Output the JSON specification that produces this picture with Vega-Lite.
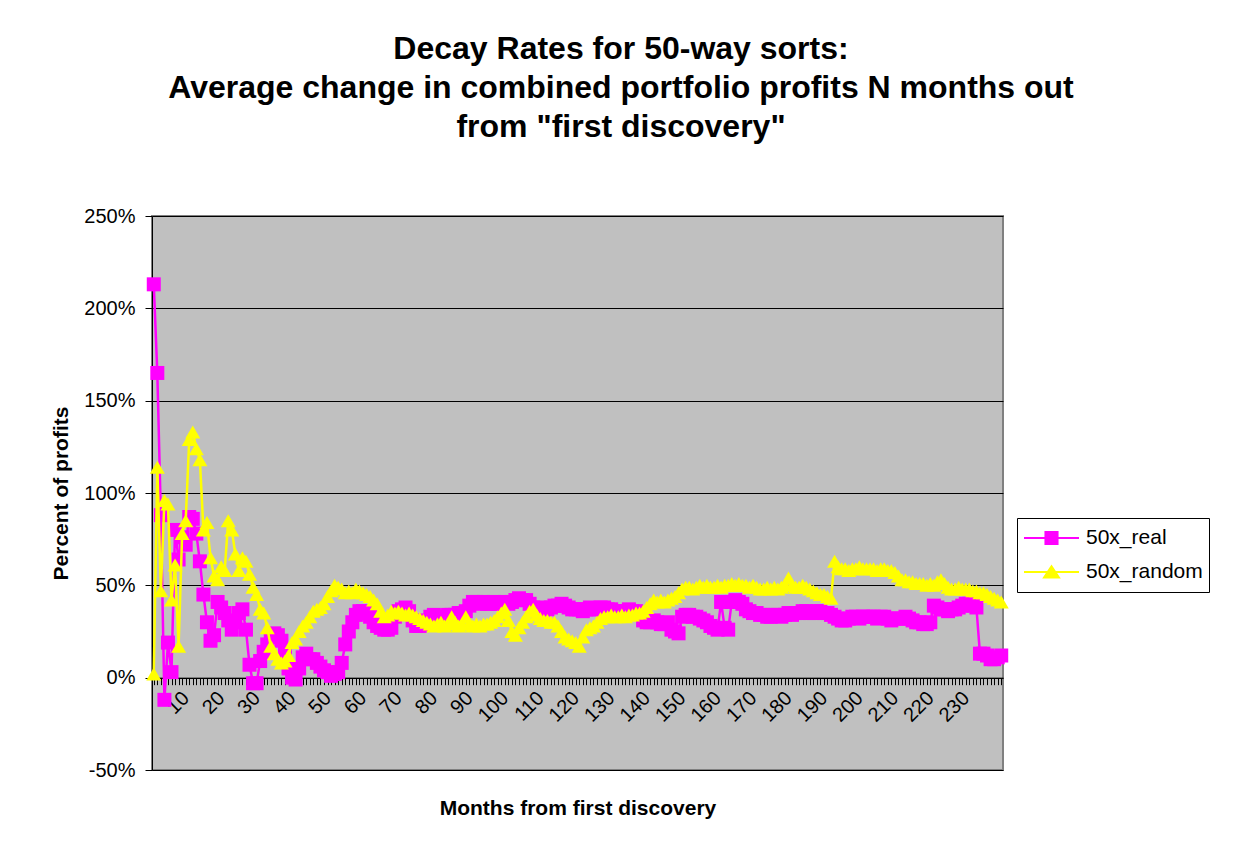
{
  "$schema": "https://vega.github.io/schema/vega-lite/v6.json",
  "width": 851,
  "height": 554,
  "autosize": {"type": "none"},
  "padding": {"left": 152, "top": 216, "right": 230, "bottom": 90},
  "background": "white",
  "config": {
    "font": "Liberation Sans",
    "view": {"fill": "#C0C0C0", "stroke": "#808080", "strokeWidth": 2}
  },
  "title": {
    "text": ["Decay Rates for 50-way sorts:", "Average change in combined portfolio profits N months out", "from \"first discovery\""],
    "fontSize": 32, "fontWeight": "bold", "font": "Liberation Sans", "color": "black",
    "lineHeight": 39, "anchor": "middle", "frame": "group", "dx": 43.5, "offset": 62
  },
  "data": {"values": [
{"m":1,"real":213,"random":2},{"m":2,"real":165,"random":114},{"m":3,"real":88,"random":47},{"m":4,"real":-12,"random":96},{"m":5,"real":19,"random":94},
{"m":6,"real":3,"random":42},{"m":7,"real":80,"random":61},{"m":8,"real":64,"random":17},{"m":9,"real":76,"random":78},{"m":10,"real":72,"random":85},
{"m":11,"real":87,"random":129},{"m":12,"real":86,"random":133},{"m":13,"real":78,"random":124},{"m":14,"real":63,"random":118},{"m":15,"real":45,"random":80},
{"m":16,"real":30,"random":84},{"m":17,"real":20,"random":65},{"m":18,"real":23,"random":55},{"m":19,"real":41,"random":53},{"m":20,"real":38,"random":60},
{"m":21,"real":35,"random":58},{"m":22,"real":31,"random":85},{"m":23,"real":26,"random":80},{"m":24,"real":30,"random":67},{"m":25,"real":35,"random":58},
{"m":26,"real":37,"random":65},{"m":27,"real":26,"random":63},{"m":28,"real":7,"random":56},{"m":29,"real":-3,"random":49},{"m":30,"real":-3,"random":45},
{"m":31,"real":9,"random":37},{"m":32,"real":14,"random":35},{"m":33,"real":18,"random":27},{"m":34,"real":22,"random":17},{"m":35,"real":24,"random":13},
{"m":36,"real":23,"random":10},{"m":37,"real":20,"random":8},{"m":38,"real":13,"random":9},{"m":39,"real":5,"random":12},{"m":40,"real":0,"random":19},
{"m":41,"real":-1,"random":21},{"m":42,"real":5,"random":25},{"m":43,"real":11,"random":28},{"m":44,"real":13,"random":30},{"m":45,"real":10,"random":33},
{"m":46,"real":10,"random":36},{"m":47,"real":8,"random":37},{"m":48,"real":6,"random":38},{"m":49,"real":4,"random":40},{"m":50,"real":3,"random":44},
{"m":51,"real":1,"random":47},{"m":52,"real":2,"random":50},{"m":53,"real":3,"random":49},{"m":54,"real":8,"random":48},{"m":55,"real":18,"random":46},
{"m":56,"real":25,"random":47},{"m":57,"real":30,"random":46},{"m":58,"real":34,"random":48},{"m":59,"real":36,"random":47},{"m":60,"real":36,"random":46},
{"m":61,"real":35,"random":45},{"m":62,"real":33,"random":44},{"m":63,"real":30,"random":42},{"m":64,"real":28,"random":40},{"m":65,"real":27,"random":36},
{"m":66,"real":26,"random":33},{"m":67,"real":26,"random":34},{"m":68,"real":27,"random":36},{"m":69,"real":33,"random":35},{"m":70,"real":36,"random":36},
{"m":71,"real":37,"random":35},{"m":72,"real":38,"random":34},{"m":73,"real":36,"random":35},{"m":74,"real":31,"random":34},{"m":75,"real":28,"random":33},
{"m":76,"real":28,"random":32},{"m":77,"real":29,"random":31},{"m":78,"real":31,"random":30},{"m":79,"real":33,"random":29},{"m":80,"real":34,"random":28},
{"m":81,"real":33,"random":29},{"m":82,"real":32,"random":30},{"m":83,"real":33,"random":28},{"m":84,"real":34,"random":29},{"m":85,"real":34,"random":33},
{"m":86,"real":34,"random":30},{"m":87,"real":35,"random":28},{"m":88,"real":35,"random":29},{"m":89,"real":36,"random":33},{"m":90,"real":39,"random":29},
{"m":91,"real":41,"random":28},{"m":92,"real":41,"random":29},{"m":93,"real":40,"random":28},{"m":94,"real":41,"random":29},{"m":95,"real":40,"random":29},
{"m":96,"real":40,"random":30},{"m":97,"real":41,"random":31},{"m":98,"real":40,"random":33},{"m":99,"real":40,"random":35},{"m":100,"real":41,"random":37},
{"m":101,"real":40,"random":31},{"m":102,"real":41,"random":25},{"m":103,"real":42,"random":23},{"m":104,"real":43,"random":27},{"m":105,"real":42,"random":30},
{"m":106,"real":42,"random":33},{"m":107,"real":40,"random":36},{"m":108,"real":38,"random":37},{"m":109,"real":37,"random":34},{"m":110,"real":38,"random":32},
{"m":111,"real":37,"random":31},{"m":112,"real":37,"random":31},{"m":113,"real":38,"random":30},{"m":114,"real":39,"random":30},{"m":115,"real":39,"random":28},
{"m":116,"real":40,"random":25},{"m":117,"real":39,"random":22},{"m":118,"real":38,"random":21},{"m":119,"real":37,"random":20},{"m":120,"real":37,"random":19},
{"m":121,"real":37,"random":17},{"m":122,"real":36,"random":22},{"m":123,"real":37,"random":26},{"m":124,"real":38,"random":27},{"m":125,"real":37,"random":28},
{"m":126,"real":37,"random":30},{"m":127,"real":38,"random":32},{"m":128,"real":38,"random":33},{"m":129,"real":37,"random":33},{"m":130,"real":37,"random":34},
{"m":131,"real":36,"random":33},{"m":132,"real":36,"random":33},{"m":133,"real":35,"random":34},{"m":134,"real":36,"random":33},{"m":135,"real":37,"random":34},
{"m":136,"real":36,"random":34},{"m":137,"real":36,"random":35},{"m":138,"real":35,"random":35},{"m":139,"real":31,"random":36},{"m":140,"real":30,"random":38},
{"m":141,"real":30,"random":40},{"m":142,"real":31,"random":42},{"m":143,"real":30,"random":41},{"m":144,"real":29,"random":42},{"m":145,"real":29,"random":41},
{"m":146,"real":30,"random":42},{"m":147,"real":26,"random":43},{"m":148,"real":25,"random":44},{"m":149,"real":24,"random":46},{"m":150,"real":33,"random":48},
{"m":151,"real":34,"random":49},{"m":152,"real":34,"random":49},{"m":153,"real":33,"random":48},{"m":154,"real":33,"random":49},{"m":155,"real":32,"random":50},
{"m":156,"real":31,"random":49},{"m":157,"real":30,"random":50},{"m":158,"real":28,"random":49},{"m":159,"real":27,"random":49},{"m":160,"real":26,"random":50},
{"m":161,"real":41,"random":49},{"m":162,"real":27,"random":50},{"m":163,"real":26,"random":50},{"m":164,"real":41,"random":51},{"m":165,"real":42,"random":50},
{"m":166,"real":41,"random":51},{"m":167,"real":40,"random":50},{"m":168,"real":37,"random":50},{"m":169,"real":36,"random":49},{"m":170,"real":35,"random":50},
{"m":171,"real":35,"random":49},{"m":172,"real":34,"random":48},{"m":173,"real":34,"random":48},{"m":174,"real":33,"random":49},{"m":175,"real":33,"random":48},
{"m":176,"real":34,"random":49},{"m":177,"real":34,"random":48},{"m":178,"real":33,"random":49},{"m":179,"real":34,"random":50},{"m":180,"real":35,"random":54},
{"m":181,"real":34,"random":50},{"m":182,"real":35,"random":49},{"m":183,"real":35,"random":49},{"m":184,"real":36,"random":50},{"m":185,"real":36,"random":49},
{"m":186,"real":35,"random":48},{"m":187,"real":35,"random":47},{"m":188,"real":36,"random":46},{"m":189,"real":36,"random":45},{"m":190,"real":35,"random":45},
{"m":191,"real":35,"random":44},{"m":192,"real":34,"random":43},{"m":193,"real":33,"random":63},{"m":194,"real":32,"random":60},{"m":195,"real":31,"random":59},
{"m":196,"real":31,"random":59},{"m":197,"real":32,"random":58},{"m":198,"real":33,"random":59},{"m":199,"real":33,"random":59},{"m":200,"real":32,"random":60},
{"m":201,"real":33,"random":59},{"m":202,"real":33,"random":59},{"m":203,"real":33,"random":59},{"m":204,"real":33,"random":59},{"m":205,"real":32,"random":58},
{"m":206,"real":33,"random":59},{"m":207,"real":33,"random":59},{"m":208,"real":32,"random":58},{"m":209,"real":31,"random":58},{"m":210,"real":32,"random":57},
{"m":211,"real":32,"random":55},{"m":212,"real":32,"random":53},{"m":213,"real":33,"random":53},{"m":214,"real":32,"random":52},{"m":215,"real":31,"random":52},
{"m":216,"real":30,"random":51},{"m":217,"real":30,"random":51},{"m":218,"real":29,"random":51},{"m":219,"real":29,"random":50},{"m":220,"real":30,"random":51},
{"m":221,"real":39,"random":50},{"m":222,"real":38,"random":52},{"m":223,"real":37,"random":53},{"m":224,"real":37,"random":51},{"m":225,"real":36,"random":49},
{"m":226,"real":37,"random":48},{"m":227,"real":37,"random":48},{"m":228,"real":38,"random":49},{"m":229,"real":39,"random":48},{"m":230,"real":40,"random":48},
{"m":231,"real":40,"random":48},{"m":232,"real":39,"random":47},{"m":233,"real":38,"random":47},{"m":234,"real":13,"random":46},{"m":235,"real":13,"random":46},
{"m":236,"real":12,"random":45},{"m":237,"real":10,"random":44},{"m":238,"real":10,"random":43},{"m":239,"real":11,"random":42},{"m":240,"real":12,"random":41}
  ]},
  "resolve": {"axis": {"x": "independent"}},
  "layer": [
    {
      "mark": {"type": "line", "strokeWidth": 2.5},
      "encoding": {
        "x": {"field": "m", "type": "quantitative", "scale": {"domain": [0.5, 240.5], "nice": false, "zero": false},
          "axis": {"orient": "bottom", "offset": -92.33, "tickCount": 240, "labelExpr": "datum.value % 10 === 0 && datum.value <= 230 ? '' + datum.value : ''",
            "labelAngle": -45, "labelAlign": "right", "labelBaseline": "middle", "labelOverlap": false, "labelBound": false, "labelFlush": false,
            "labelFontSize": 20, "labelFont": "Liberation Sans", "labelColor": "black", "labelPadding": 10,
            "tickSize": 7, "tickColor": "black", "tickWidth": 1, "domainColor": "black", "domainWidth": 1, "grid": false, "title": null}},
        "y": {"field": "real", "type": "quantitative", "scale": {"domain": [-50, 250], "nice": false, "zero": false},
          "axis": {"values": [-50, 0, 50, 100, 150, 200, 250], "labelExpr": "datum.value + '%'", "labelFlush": false,
            "grid": true, "gridColor": "black", "gridWidth": 1, "gridOpacity": 1, "domainColor": "black", "tickColor": "black", "tickSize": 7,
            "labelPadding": 10, "labelFontSize": 20, "labelFont": "Liberation Sans", "labelColor": "black",
            "title": "Percent of profits", "titleFontSize": 21, "titleFontWeight": "bold", "titleFont": "Liberation Sans", "titleColor": "black", "titlePadding": 12}},
        "color": {"datum": "50x_real", "type": "nominal",
          "scale": {"domain": ["50x_real", "50x_random"], "range": ["#FF00FF", "#FFFF00"]},
          "legend": {"orient": "none", "legendX": 865, "legendY": 302, "title": null,
            "strokeColor": "black", "fillColor": "white", "padding": 6,
            "labelFont": "Liberation Sans", "labelFontSize": 21, "labelColor": "black", "labelOffset": 6,
            "symbolSize": 3025, "clipHeight": 28, "rowPadding": 6, "symbolStrokeWidth": 2,
            "encoding": {"symbols": {
              "shape": {"value": {"expr": "datum.value === '50x_real' ? 'M-1,0H1M-0.22,-0.22H0.22V0.22H-0.22Z' : 'M-1,0H1M0,-0.21L0.27,0.2H-0.27Z'"}},
              "fill": {"value": {"expr": "scale('color', datum.value)"}},
              "stroke": {"value": {"expr": "scale('color', datum.value)"}},
              "strokeWidth": {"value": 2},
              "opacity": {"value": 1}
            }}}}
      }
    },
    {
      "mark": {"type": "point", "shape": "square", "filled": true, "size": 196, "opacity": 1},
      "encoding": {
        "x": {"field": "m", "type": "quantitative", "axis": null},
        "y": {"field": "real", "type": "quantitative"},
        "color": {"datum": "50x_real", "type": "nominal"}
      }
    },
    {
      "mark": {"type": "line", "strokeWidth": 2.5},
      "encoding": {
        "x": {"field": "m", "type": "quantitative",
          "axis": {"orient": "bottom", "title": "Months from first discovery", "labels": false, "ticks": false, "domain": false, "grid": false,
            "titleFontSize": 21, "titleFontWeight": "bold", "titleFont": "Liberation Sans", "titleColor": "black", "titlePadding": 27}},
        "y": {"field": "random", "type": "quantitative"},
        "color": {"datum": "50x_random", "type": "nominal"}
      }
    },
    {
      "mark": {"type": "point", "shape": "triangle-up", "filled": true, "size": 225, "opacity": 1},
      "encoding": {
        "x": {"field": "m", "type": "quantitative", "axis": null},
        "y": {"field": "random", "type": "quantitative"},
        "color": {"datum": "50x_random", "type": "nominal"}
      }
    }
  ]
}
